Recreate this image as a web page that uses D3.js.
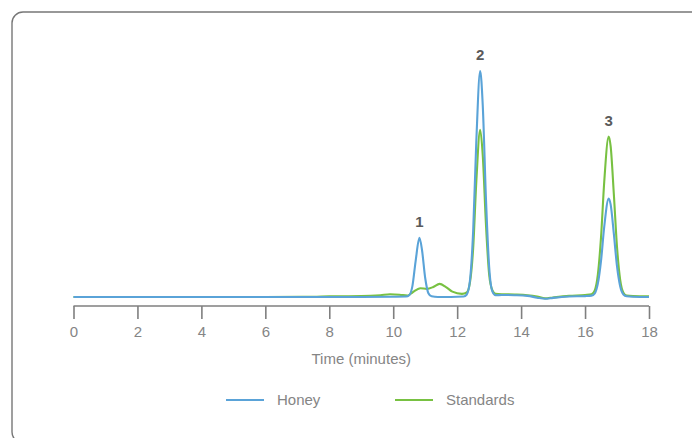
<!DOCTYPE html>
<html>
<head>
<meta charset="utf-8">
<script src="https://cdn.jsdelivr.net/npm/d3@7"></script>
<style>
	html, body { margin: 0; padding: 0; background: #fff; overflow: hidden; }
	svg { display: block; }
	.axis text { font-family: "Liberation Sans", Arial, sans-serif; font-size: 15px; fill: #858585; }
	.axis path, .axis line { stroke: #7f7f7f; stroke-width: 1.6; }
	.label { font-family: "Liberation Sans", Arial, sans-serif; font-size: 15px; fill: #858585; }
	.peak-label { font-family: "Liberation Sans", Arial, sans-serif; font-size: 15px; font-weight: bold; fill: #5a5a5a; }
</style>
</head>
<body>
<div class="chart"></div>
<script>

	// x ticks (minutes)
	var xTicks = [0, 2, 4, 6, 8, 10, 12, 14, 16, 18];

	// Honey trace (time in minutes, detector response, relative units)
	var honeyTime = [0, 2, 4, 6, 8, 9, 10, 10.4, 10.5, 10.6, 10.7, 10.82, 10.9, 11.0, 11.1, 11.2, 11.4, 11.8, 12.2, 12.3, 12.4, 12.5, 12.6, 12.72, 12.8, 12.9, 13.0, 13.1, 13.2, 13.4, 13.8, 14.2, 14.5, 14.75, 15.0, 15.5, 16.0, 16.2, 16.3, 16.4, 16.5, 16.6, 16.74, 16.8, 16.9, 17.0, 17.1, 17.2, 17.3, 17.5, 18];
	var honeyValue = [0, 0, 0, 0, 0, 0, 0.1, 0.2, 0.8, 4.8, 15.8, 26.2, 20.8, 8.4, 1.7, 0.3, 0, 0, 0.2, 1.1, 7.3, 29.1, 69.3, 100, 84.9, 43.7, 13.5, 2.5, 0.8, 0.9, 0.8, 0.5, -0.3, -0.8, -0.4, 0.2, 0.4, 0.6, 1.5, 5.9, 16.1, 31.1, 43.6, 41.0, 28.0, 13.5, 4.6, 1.1, 0.3, 0.1, 0];

	// Standards trace
	var standardsTime = [0, 2, 4, 6, 7.5, 8, 9, 9.6, 9.9, 10.2, 10.45, 10.6, 10.85, 11.05, 11.25, 11.45, 11.65, 11.85, 12.15, 12.3, 12.4, 12.5, 12.6, 12.72, 12.8, 12.9, 13.0, 13.1, 13.2, 13.4, 13.8, 14.2, 14.5, 14.75, 15.0, 15.5, 16.0, 16.2, 16.3, 16.4, 16.5, 16.6, 16.74, 16.8, 16.9, 17.0, 17.1, 17.2, 17.3, 17.5, 18];
	var standardsValue = [0, 0, 0, 0, 0.1, 0.3, 0.4, 0.8, 1.2, 1.0, 0.6, 2.0, 3.9, 3.6, 4.4, 5.8, 4.4, 2.4, 1.4, 2.0, 6.4, 21.5, 51.3, 74, 62.8, 32.3, 10.0, 3.0, 1.4, 1.2, 1.1, 0.8, 0.2, -0.6, -0.2, 0.5, 0.9, 1.2, 2.8, 9.9, 26.5, 51, 71, 66.8, 45.6, 22.0, 7.5, 1.9, 0.6, 0.4, 0.3];

	// numbered peaks
	var peakTime = [10.82, 12.72, 16.74];
	var peakTop = [26.2, 100, 71];
	var peakLabel = ["1", "2", "3"];

	var seriesNames = ["Honey", "Standards"];
	var seriesColors = ["#5aa3d8", "#78c142"];

	var W = 692,
		H = 438;

	var x = d3.scaleLinear().domain([0, 18]).range([73.5, 649]),
		y = d3.scaleLinear().domain([0, 100]).range([297, 71]);

	var svg = d3.select(".chart").append("svg")
		.attr("width", W)
		.attr("height", H);

	// frame: only the top and left edges fall inside the picture
	svg.append("rect")
		.attr("x", 12)
		.attr("y", 12)
		.attr("width", W + 100)
		.attr("height", H - 7)
		.attr("rx", 11)
		.attr("fill", "none")
		.attr("stroke", "#777")
		.attr("stroke-width", 1.4);

	var xAxis = d3.axisBottom(x)
		.tickValues(xTicks)
		.tickSize(13)
		.tickSizeOuter(0)
		.tickPadding(7);

	var gx = svg.append("g")
		.classed("x axis", true)
		.attr("transform", "translate(0,306)")
		.call(xAxis);
	gx.select(".domain").attr("d", "M" + x(0) + ",0H" + x(18));

	svg.append("text")
		.classed("label", true)
		.attr("x", x(9))
		.attr("y", 364)
		.attr("text-anchor", "middle")
		.text("Time (minutes)");

	var line = d3.line()
		.x(function (d) { return x(d[0]); })
		.y(function (d) { return y(d[1]); })
		.curve(d3.curveMonotoneX);

	var standards = d3.zip(standardsTime, standardsValue),
		honey = d3.zip(honeyTime, honeyValue);

	svg.append("path")
		.datum(standards)
		.attr("d", line)
		.attr("fill", "none")
		.attr("stroke", seriesColors[1])
		.attr("stroke-width", 2.1);

	svg.append("path")
		.datum(honey)
		.attr("d", line)
		.attr("fill", "none")
		.attr("stroke", seriesColors[0])
		.attr("stroke-width", 2.1);

	svg.selectAll(".peak-label")
		.data(peakLabel)
		.enter().append("text")
		.classed("peak-label", true)
		.attr("x", function (d, i) { return x(peakTime[i]); })
		.attr("y", function (d, i) { return y(peakTop[i]) - 11; })
		.attr("text-anchor", "middle")
		.text(function (d) { return d; });

	var legend = svg.selectAll(".legend")
		.data(seriesNames)
		.enter().append("g")
		.classed("legend", true)
		.attr("transform", function (d, i) {
			return "translate(" + (226 + i * 169) + ",400)";
		});

	legend.append("line")
		.attr("x1", 0)
		.attr("x2", 38)
		.attr("stroke", function (d, i) { return seriesColors[i]; })
		.attr("stroke-width", 2.2);

	legend.append("text")
		.classed("label", true)
		.attr("x", 51)
		.attr("dy", "0.35em")
		.text(function (d) { return d; });

</script>
</body>
</html>
